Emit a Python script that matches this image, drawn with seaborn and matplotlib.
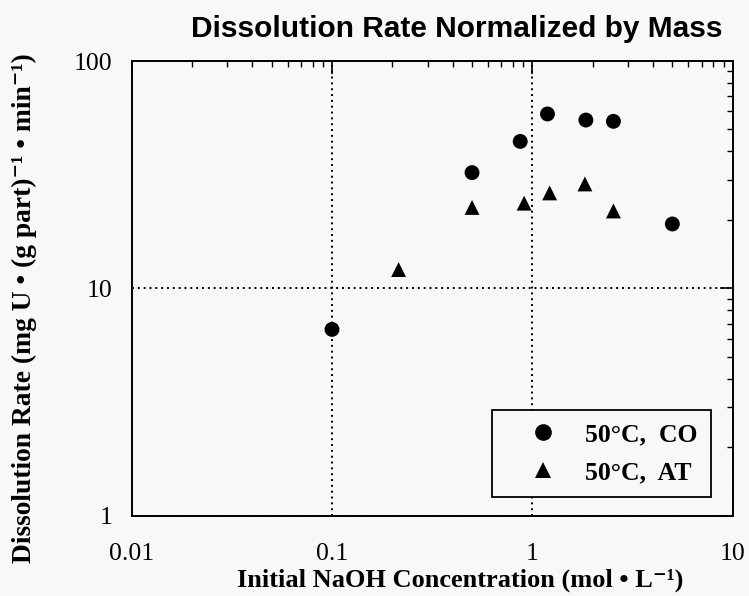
import numpy as np
import pandas as pd
import matplotlib.pyplot as plt
import seaborn as sns
from matplotlib.ticker import FixedLocator, FixedFormatter, LogLocator, NullFormatter

# values (log-log)
co_conc = [0.1, 0.5, 0.87, 1.19, 1.85, 2.54, 5.0]
co_rate = [6.6, 32.3, 44.3, 58.5, 55.0, 54.3, 19.2]
at_conc = [0.215, 0.5, 0.91, 1.22, 1.83, 2.54]
at_rate = [12.1, 22.7, 23.7, 26.3, 28.8, 21.9]
series_names = ['50°C,  CO', '50°C,  AT']

x_ticks = [0.01, 0.1, 1, 10]
x_tick_labels = ['0.01', '0.1', '1', '10']
y_ticks = [1, 10, 100]
y_tick_labels = ['1', '10', '100']

df = pd.concat([
    pd.DataFrame({'conc': co_conc, 'rate': co_rate, 'series': series_names[0]}),
    pd.DataFrame({'conc': at_conc, 'rate': at_rate, 'series': series_names[1]}),
], ignore_index=True)

bg = '#f8f8f8'
sns.set_style('white')
plt.rcParams['font.family'] = ['Liberation Serif', 'DejaVu Serif']
plt.rcParams['text.color'] = 'black'
plt.rcParams['axes.labelcolor'] = 'black'
plt.rcParams['xtick.color'] = 'black'
plt.rcParams['ytick.color'] = 'black'

fig = plt.figure(figsize=(7.49, 5.96), dpi=100, facecolor=bg)
ax = fig.add_axes([0.1758, 0.1347, 0.8024, 0.7629])
ax.set_facecolor(bg)

sns.scatterplot(data=df, x='conc', y='rate', style='series',
                markers={series_names[0]: 'o', series_names[1]: '^'},
                color='black', s=115, linewidth=0, ax=ax, zorder=3)

ax.set_xscale('log')
ax.set_yscale('log')
ax.set_xlim(0.01, 10)
ax.set_ylim(1, 100)

ax.xaxis.set_major_locator(FixedLocator(x_ticks))
ax.xaxis.set_major_formatter(FixedFormatter(x_tick_labels))
ax.yaxis.set_major_locator(FixedLocator(y_ticks))
ax.yaxis.set_major_formatter(FixedFormatter(y_tick_labels))
ax.xaxis.set_minor_locator(LogLocator(base=10, subs=np.arange(2, 10)))
ax.yaxis.set_minor_locator(LogLocator(base=10, subs=np.arange(2, 10)))
ax.xaxis.set_minor_formatter(NullFormatter())
ax.yaxis.set_minor_formatter(NullFormatter())

ax.grid(which='major', linestyle=(0, (1, 2)), color='black', linewidth=1.4)
ax.grid(which='minor', visible=False)

ax.tick_params(which='both', direction='in', top=True, right=True, color='black')
ax.tick_params(which='major', length=9.5, width=1.2, labelsize=18.5, labelcolor='black')
ax.tick_params(which='minor', length=4, width=1.0)
ax.tick_params(axis='x', which='major', pad=20)
ax.tick_params(axis='y', which='major', pad=14)

for spine in ax.spines.values():
    spine.set_color('black')
    spine.set_linewidth(1.4)

ax.set_xlabel('Initial NaOH Concentration (mol • L⁻¹)', fontsize=19, fontweight='bold', color='black')
ax.set_ylabel('Dissolution Rate (mg U • (g part)⁻¹ • min⁻¹)', fontsize=19.8, fontweight='bold', color='black')
ax.xaxis.set_label_coords(0.546, -0.141)
ax.xaxis.label.set_va('center')
ax.yaxis.set_label_coords(-0.179, 0.457)
ax.yaxis.label.set_va('center')

fig.text(457 / 749, 1 - 29 / 596, 'Dissolution Rate Normalized by Mass',
         ha='center', va='center', fontsize=21.5, fontweight='bold', color='black',
         family=['Liberation Sans', 'DejaVu Sans'])

sns.move_legend(ax, 'lower right', bbox_to_anchor=(0.9634, 0.0405), title=None,
                frameon=True, fancybox=False, shadow=False, framealpha=1,
                borderaxespad=0, borderpad=0.5, handlelength=2.95, handletextpad=0.18,
                labelspacing=0.6, markerscale=1.12, prop={'size': 18.5, 'weight': 'bold'})
leg = ax.get_legend()
leg.get_frame().set_edgecolor('black')
leg.get_frame().set_linewidth(1.3)
leg.get_frame().set_facecolor(bg)
for txt in leg.get_texts():
    txt.set_color('black')

fig.savefig('out.png', dpi=100, facecolor=bg)
